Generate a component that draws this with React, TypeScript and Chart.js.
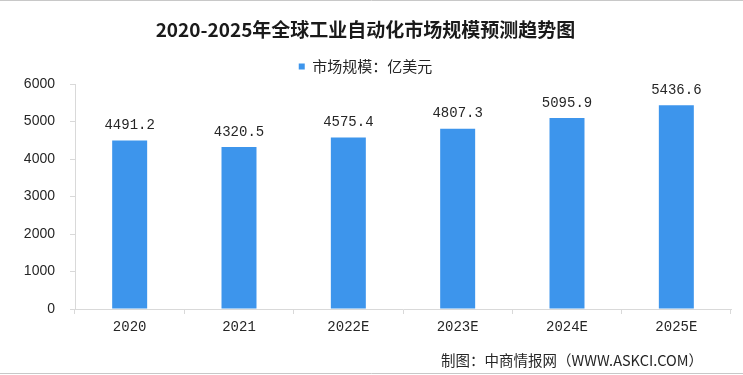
import React, { useEffect, useRef } from "react";
import { Chart, registerables } from "chart.js";

Chart.register(...registerables);

const categories = ["2020", "2021", "2022E", "2023E", "2024E", "2025E"];
const marketSize = [4491.2, 4320.5, 4575.4, 4807.3, 5095.9, 5436.6];
const valueLabels = ["4491.2", "4320.5", "4575.4", "4807.3", "5095.9", "5436.6"];
const yTicks = [0, 1000, 2000, 3000, 4000, 5000, 6000];
const titleText = "2020-2025年全球工业自动化市场规模预测趋势图";
const seriesName = "市场规模：亿美元";
const sourceText = "制图：中商情报网（WWW.ASKCI.COM）";

const BAR_COLOR = "#3d95ec";
const AXIS_COLOR = "#d9d9d9";
const CJK = '"Noto Sans CJK SC", "Noto Sans", sans-serif';
const MONO = '"Liberation Mono", "DejaVu Sans Mono", monospace';
const SANS = '"Liberation Sans", Arial, sans-serif';

const decorPlugin = {
  id: "decor",
  beforeDraw(chart: any) {
    const { ctx, width, height } = chart;
    ctx.save();
    ctx.fillStyle = "#ffffff";
    ctx.fillRect(0, 0, width, height);
    ctx.strokeStyle = "#c8c8c8";
    ctx.lineWidth = 1;
    ctx.beginPath();
    ctx.moveTo(0, 0.5);
    ctx.lineTo(width, 0.5);
    ctx.moveTo(0, height - 1.5);
    ctx.lineTo(width, height - 1.5);
    ctx.stroke();
    ctx.restore();
  },
  afterDatasetsDraw(chart: any) {
    const { ctx } = chart;
    const meta = chart.getDatasetMeta(0);
    ctx.save();
    ctx.fillStyle = "#262626";
    ctx.font = `14px ${MONO}`;
    ctx.textAlign = "center";
    ctx.textBaseline = "bottom";
    meta.data.forEach((bar: any, i: number) => {
      ctx.fillText(valueLabels[i], bar.x, bar.y - 8);
    });
    ctx.font = `14.5px ${CJK}`;
    ctx.textAlign = "right";
    ctx.textBaseline = "middle";
    ctx.fillText(sourceText, 703, 360);
    ctx.restore();
  },
};

export default function App() {
  const ref = useRef<HTMLCanvasElement | null>(null);
  useEffect(() => {
    document.body.style.margin = "0";
    const chart = new Chart(ref.current!, {
      type: "bar",
      data: {
        labels: categories,
        datasets: [
          {
            label: seriesName,
            data: marketSize,
            backgroundColor: BAR_COLOR,
            borderWidth: 0,
            barPercentage: 0.32,
            categoryPercentage: 1,
          },
        ],
      },
      options: {
        animation: false,
        responsive: false,
        maintainAspectRatio: false,
        layout: { padding: { left: 0, right: 12, top: 0, bottom: 26 } },
        plugins: {
          title: {
            display: true,
            text: titleText,
            color: "#1a1a1a",
            font: { family: CJK, size: 19, weight: "bold" },
            padding: { top: 9, bottom: 3.6 },
          },
          legend: {
            display: true,
            labels: {
              color: "#262626",
              font: { family: CJK, size: 15 },
              boxWidth: 6,
              boxHeight: 6,
              padding: 14.5,
            },
          },
          tooltip: { enabled: false },
        },
        scales: {
          x: {
            afterFit(scale: any) {
              scale.height = 40;
            },
            grid: {
              offset: true,
              drawOnChartArea: false,
              drawTicks: true,
              tickLength: 5,
              color: AXIS_COLOR,
            },
            border: { display: true, color: AXIS_COLOR },
            ticks: {
              color: "#262626",
              font: { family: MONO, size: 14 },
              padding: 5,
            },
          },
          y: {
            min: 0,
            max: 6000,
            afterFit(scale: any) {
              scale.width = 75;
              scale.paddingTop = 84;
            },
            afterBuildTicks(scale: any) {
              scale.ticks = yTicks.map((v) => ({ value: v }));
            },
            grid: {
              drawOnChartArea: false,
              drawTicks: true,
              tickLength: 5,
              color: AXIS_COLOR,
            },
            border: { display: true, color: AXIS_COLOR },
            ticks: {
              color: "#262626",
              font: { family: SANS, size: 14 },
              padding: 15,
              callback: (v: any) => String(v),
            },
          },
        },
      },
      plugins: [decorPlugin],
    });
    return () => chart.destroy();
  }, []);
  return (
    <div style={{ position: "absolute", left: 0, top: 0, width: 743, height: 375 }}>
      <canvas ref={ref} width={743} height={375} style={{ width: 743, height: 375 }} />
    </div>
  );
}
